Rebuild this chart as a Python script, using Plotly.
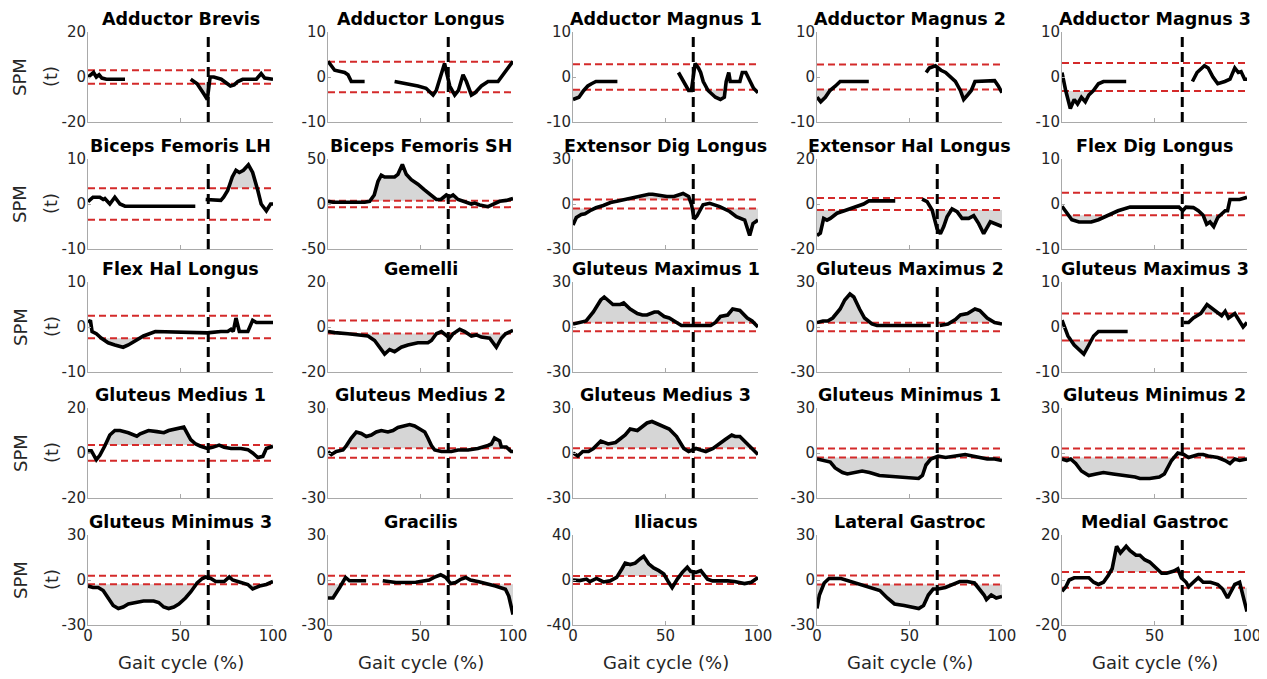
import plotly.graph_objects as go

# ---------------- data ----------------
TITLES = [
    "Adductor Brevis", "Adductor Longus", "Adductor Magnus 1", "Adductor Magnus 2", "Adductor Magnus 3",
    "Biceps Femoris LH", "Biceps Femoris SH", "Extensor Dig Longus", "Extensor Hal Longus", "Flex Dig Longus",
    "Flex Hal Longus", "Gemelli", "Gluteus Maximus 1", "Gluteus Maximus 2", "Gluteus Maximus 3",
    "Gluteus Medius 1", "Gluteus Medius 2", "Gluteus Medius 3", "Gluteus Minimus 1", "Gluteus Minimus 2",
    "Gluteus Minimus 3", "Gracilis", "Iliacus", "Lateral Gastroc", "Medial Gastroc",
]
Y_LIMITS = [20, 10, 10, 10, 10,
            10, 50, 30, 20, 10,
            10, 20, 30, 30, 10,
            20, 30, 30, 30, 30,
            30, 30, 40, 30, 20]
THRESHOLDS = [3.0, 3.4, 2.85, 2.8, 3.1,
              3.5, 3.5, 3.0, 2.7, 2.5,
              2.5, 2.9, 2.8, 2.8, 3.0,
              3.5, 3.2, 3.1, 3.0, 3.0,
              2.8, 2.8, 3.5, 3.0, 3.5]
TOE_OFF = 65
X_TICKS = [0, 50, 100]
X_LABEL = "Gait cycle (%)"
Y_LABEL_1 = "SPM"
Y_LABEL_2 = "(t)"

ADD_BREVIS_X = [0, 3, 4.5, 6, 7.5, 10, 20, None, 55.5, 59, 63, 64.5, 66, 68, 72, 75.5, 77, 79, 81, 83.6, 91, 93.6, 95.5, 100]
ADD_BREVIS_Y = [0, 2, 0, 1, -0.5, -1, -1, None, -1, -3, -8, -10, 0, 0, -1, -3, -4, -3.5, -2, -1, -1, 1.5, -0.5, -1]

ADD_LONGUS_X = [0, 3.6, 9, 10.8, 12.6, 19.8, None, 36, 43, 48.6, 53, 56.8, 58.5, 63, 65.8, 68.5, 70.5, 73, 74.8, 77.5, 79.5, 82.9, 86.5, 91.9, 93.7, 97.3, 100]
ADD_LONGUS_Y = [3.5, 1.5, 1, 0.5, -1, -1, None, -1, -1.5, -2, -2.5, -4, -3, 3, -2, -4, -3, 0.5, -1, -4, -3.5, -2, -1, -1, 0, 2, 3.5]

ADD_MAG1_X = [0, 3.2, 5.8, 8, 10, 12.4, 24, None, 57, 60, 62.5, 64, 66, 67.8, 69, 70.4, 73, 77, 79.7, 81.8, 82.8, 84.2, 85, 90.2, 91.5, 93.4, 95.5, 97.6, 100]
ADD_MAG1_Y = [-5, -4.5, -3, -2, -1.5, -1, -1, None, 1, -1, -3, -3, 3, 2, 1, -1, -3, -4.5, -5, -4.5, -1, 1, -1, -1, 1, 1, -1, -2.5, -3.5]

ADD_MAG2_X = [0, 2, 4.5, 7, 10, 12.5, 28, None, 59, 60.7, 64, 67, 69.5, 72, 74.8, 77.5, 79.3, 81.4, 83.4, 85.4, 88, 96, 98, 100]
ADD_MAG2_Y = [-4.5, -5.5, -4.5, -3, -2, -1, -1, None, 1, 2, 2.5, 1.5, 1, 0, -1, -3, -5, -4, -3, -1, -1, -0.8, -2, -3.5]

ADD_MAG3_X = [0, 2, 4.5, 6.6, 8.4, 10.5, 12.6, 14.5, 17, 19.7, 22.4, 34.7, None, 70.5, 73, 77, 79, 81.6, 84.2, 88, 90.8, 93.4, 95.3, 96.8, 98.7, 100]
ADD_MAG3_Y = [1, -3, -7, -5, -6, -4.5, -5.5, -4, -3, -1.5, -1, -1, None, -1, 1, 2.5, 2, 0, -1.5, -1, -0.5, 2, 1, 1.2, -0.5, -0.5]

BF_LH_X = [0, 2.7, 6.4, 8.2, 9.1, 11.8, 14.5, 17.3, 20, 58, None, 63.6, 66.3, 71.8, 73.3, 75.5, 78, 80, 81.8, 84, 86.7, 89, 91.8, 93.6, 96.4, 98.7, 100]
BF_LH_Y = [0.5, 1.5, 1.5, 1, 1.2, 0, 1.5, 0, -0.5, -0.5, None, 1, 1, 0.8, 1.5, 3, 6, 7.5, 7, 7.5, 8.7, 7, 3, 0, -1.5, 0, 0]

BF_SH_X = [0, 2.7, 19.8, 22.5, 25, 27, 28.8, 30.6, 36, 37.8, 40.2, 42.3, 45, 48.6, 52, 55.9, 58.6, 61, 64, 65.8, 67.6, 70.3, 73.9, 77.5, 79.3, 82, 86.5, 88.3, 90, 92.8, 96.4, 100]
BF_SH_Y = [3, 2, 2, 3, 10, 25, 32, 30, 30, 33, 44, 33, 27, 22, 16, 9, 5, 5, 10, 8, 10, 5, 2, 0, 1, -1, -3, -1, 0, 3, 4, 6]

EXT_DIG_X = [0, 1.8, 4.5, 6.5, 9.8, 12.4, 16.4, 20.3, 24.3, 29.5, 34.8, 41, 43, 47, 50.7, 54.6, 59.5, 62.5, 64, 65.5, 67, 70.3, 73.9, 79.3, 84.7, 88.3, 92.8, 95.5, 97.3, 100]
EXT_DIG_Y = [-14, -9, -7, -6.5, -4, -2.5, -1, 1, 2, 3.5, 5, 6.5, 6.5, 5.5, 5, 5, 7, 5, 0, -10, -8, -0.5, 0.5, -1.7, -5, -8.5, -10.7, -21, -13, -10.7]

EXT_HAL_X = [0, 1.8, 3.6, 5.4, 7.2, 10.8, 14.4, 19.8, 25.2, 28, 42.3, None, 56.8, 59.5, 62.2, 64.9, 66.7, 68.5, 70.3, 73, 75.7, 78.4, 82, 84.7, 87.4, 90.1, 93.7, 96.4, 100]
EXT_HAL_Y = [-14, -13, -6.4, -7.2, -6.4, -4.1, -3.1, -1.6, 0, 1.4, 1.4, None, 2.2, 1.1, -2.6, -11, -13.2, -10, -5.7, -2.2, -3.4, -6.4, -6.4, -5.2, -8.7, -13.2, -7.9, -8.7, -10]

FLEX_DIG_X = [0, 2.6, 5.3, 9.2, 15.8, 19.7, 25, 30.3, 36.8, 63.2, 65.3, 67, 71, 73.7, 76.3, 78.2, 80, 82, 84.2, 88.2, 89.5, 90.8, 96, 100]
FLEX_DIG_Y = [-0.5, -2, -3.5, -4, -4, -3.5, -2.5, -1.5, -0.7, -0.7, -1.5, -0.7, -0.8, -1.5, -2.5, -4.5, -4, -5, -3, -1.5, -1.5, 1, 1, 1.5]

FLEX_HAL_X = [0, 1.3, 2.2, 4.5, 7.3, 10.9, 14.5, 19, 21.8, 25.5, 30, 36.4, 53.6, 64.5, 71.8, 75.5, 77.3, 78.5, 80, 81.8, 86.4, 89, 91, 100]
FLEX_HAL_Y = [1, 1.5, -1, -1.5, -2.5, -3.5, -4, -4.5, -4, -3, -2, -1, -1.2, -1.3, -1, -1, -0.5, -1, 2, -1, -1, 1.5, 1, 1]

GEMELLI_X = [0, 3.6, 10.8, 18, 21.6, 25.2, 28.8, 30.6, 33.3, 36, 39.6, 43.2, 48.6, 54, 55.9, 58.6, 61.3, 64, 65.8, 67.6, 71.2, 73.9, 77.5, 80.2, 82.9, 87.4, 91, 93.7, 96, 100]
GEMELLI_Y = [-2, -2.5, -3, -3.5, -4, -6, -10, -12, -10, -11, -9, -8, -7, -7, -6, -3, -2, -4, -5, -3, -1, -2, -4, -3.5, -4.5, -5, -9, -5, -3, -1.5]

GMAX1_X = [0, 3.2, 7.1, 11, 15, 16.9, 19.5, 21.6, 25.6, 27.4, 30.9, 34.8, 37.5, 40, 44, 46, 49.3, 52, 56, 58.6, 74.4, 77, 79.7, 83.6, 86.3, 90.2, 94.2, 96.8, 100]
GMAX1_Y = [2, 3, 4, 10, 18, 20, 17, 15, 15, 16, 12, 9, 8, 8, 10, 10, 7, 6, 3, 1, 1, 3, 7, 8, 12, 11, 6, 4, 0]

GMAX2_X = [0, 3.2, 5.8, 8.5, 12.5, 15, 17.8, 19.9, 23, 25.7, 29.7, 32.4, 61.5, None, 66.3, 70.8, 74.8, 77.5, 81.4, 85.4, 88, 92, 96, 100]
GMAX2_Y = [3, 4, 4, 6, 12, 18, 22, 20, 12, 6, 2, 1, 1, None, 1, 2, 5, 8, 9, 12, 11, 6, 3, 2]

GMAX3_X = [0, 1.3, 3.2, 6.6, 9.2, 11.8, 14.5, 17.1, 19.7, 35.5, None, 65.8, 68.4, 71, 75, 78.4, 81.6, 84.2, 86.3, 88.2, 90, 93.4, 95, 97.9, 100]
GMAX3_Y = [1.5, 0, -2, -4, -5, -6, -4, -2, -1, -1, None, 1, 1, 2, 3, 5, 4, 3, 2.5, 3.5, 2, 3, 2, 0, 1]

GMED1_X = [0, 1.8, 4.5, 6.4, 9, 11.8, 14.5, 17.3, 21.8, 24.5, 26.4, 28.2, 32.7, 37.3, 41, 43.6, 47.3, 50.9, 51.8, 55.5, 58.2, 60.9, 64.5, 67.3, 70.9, 73.6, 77.3, 82.7, 86.4, 89, 91.8, 94.5, 96.4, 100]
GMED1_Y = [1, 1, -3, -1, 3, 8, 10, 10, 9, 8, 7.5, 8.5, 10, 9.5, 9, 10, 10.5, 11, 11.5, 6, 4, 3, 2, 2.5, 3.5, 2.5, 2, 2, 1.5, 0, -2, -1.5, 2, 3]

GMED2_X = [0, 1.8, 4.5, 8.1, 10, 12.6, 15.3, 18, 20.7, 23.4, 26.1, 28.8, 32.4, 35.1, 37.8, 40.5, 44.1, 46.8, 49.5, 52.3, 54, 55.9, 57.7, 61.3, 66.7, 70.3, 75.7, 81, 86.5, 88.3, 90, 92.8, 93.7, 96.4, 99, 100]
GMED2_Y = [1, -1, 1, 2, 5, 10, 14, 13, 11, 12, 14, 15, 14, 15, 17, 18, 19, 18, 16, 14, 10, 5, 2, 1, 1, 2, 2, 3, 5, 6, 10, 8, 4, 4, 1, 1]

GMED3_X = [0, 2.6, 5.3, 8.4, 11, 15, 19, 23, 28.2, 30.9, 34.8, 40, 42.7, 46.7, 52, 56, 59.9, 62.5, 66.5, 69, 71.8, 75.7, 79.7, 82.3, 85.8, 87.6, 90.2, 94.2, 96.8, 100]
GMED3_Y = [0, -2, 1, 1, 3, 8, 6, 7, 12, 16, 15, 20, 21, 19, 16, 11, 3, 1, 3, 2, 1, 3, 7, 9, 12, 11, 11, 6, 3, -1]

GMIN1_X = [0, 4.5, 7.2, 9.8, 13.8, 16.4, 20.4, 24.4, 28.4, 33.7, 39, 44.3, 49.6, 54.9, 57, 58.9, 61.5, 65.5, 69.5, 74.8, 80.1, 84, 89.4, 92, 96, 100]
GMIN1_Y = [-4, -5, -6, -10, -13, -14, -13, -12, -13, -15, -15.5, -16, -17, -17, -15, -8, -4, -2, -3, -2, -1, -2, -3, -4, -4, -5]

GMIN2_X = [0, 2.6, 4.7, 7.4, 10.5, 14.5, 18.4, 22.4, 27.6, 34.2, 39.5, 42.1, 47.4, 52.6, 55.3, 59.2, 62.6, 65.8, 68.4, 73.7, 76.3, 79, 84.2, 88.2, 90.8, 93.4, 96, 100]
GMIN2_Y = [-4, -5, -4, -7, -12, -15, -14, -13, -14, -15, -16, -17, -17, -16, -14, -5, 0, -1, -3, -1, -1, -2, -3, -5, -7, -4, -5, -4]

GMIN3_X = [0, 2.7, 5.5, 8.2, 10.9, 13.6, 16.4, 19, 21.8, 25.5, 30, 35.5, 38.2, 40.9, 43.6, 46.4, 49.1, 52.7, 55.5, 59, 61.8, 63.6, 66.4, 69, 73.6, 76.4, 78.2, 80.9, 83.6, 86.4, 89, 92.7, 96.4, 100]
GMIN3_Y = [-4, -5, -5, -7, -12, -17, -19, -18, -16, -15, -14, -14, -15, -18, -19, -18, -16, -12, -8, -2, 1, 2, 1, -1, -1, 2, 0, -1, -2, -3, -6, -4, -3, -1]

GRACILIS_X = [0, 2.7, 6.3, 9.5, 11.6, 20.6, None, 29.6, 36.7, 47.5, 54.7, 57.3, 60.9, 63.6, 66.3, 69, 71.7, 74.4, 77, 81.5, 86, 90.5, 95.9, 97.7, 100]
GRACILIS_Y = [-12, -12, -5, 1.7, -0.5, -0.5, None, -0.5, -1.7, -1.5, 0, 1.7, 3.5, 1.7, -2.4, -1.7, 0.5, 1.7, 0, -1.2, -2.4, -4, -6.2, -10.7, -23]

ILIACUS_X = [0, 3.6, 7.3, 9.1, 12.7, 16.4, 20, 23.6, 26.4, 28.2, 30.9, 33.6, 36.4, 38.2, 40.9, 43.6, 46.4, 49.1, 51.8, 53.6, 56.4, 59.1, 61.8, 63.6, 66.4, 69.1, 72.7, 75.5, 83.6, 87.3, 92.7, 96.4, 100]
ILIACUS_Y = [0, -0.5, 0.8, -1.4, 1.4, -1.7, -0.8, 2.3, 9.8, 15, 13.7, 15, 18.9, 21, 14.4, 10.7, 8.3, 5.3, -2.3, -6.8, 0.8, 6.8, 11.3, 7.7, 6.8, 8.3, 0.8, -0.8, -0.8, -1.4, -3.2, -2, 2.3]

LAT_GAS_X = [0, 1.3, 3.9, 6.5, 13, 15.7, 20.9, 26.2, 30.1, 34, 38, 41.9, 47.1, 51, 55, 57.6, 60.2, 62.8, 65.4, 69.4, 73.3, 77.2, 81.2, 85.1, 87.7, 90.3, 91.6, 94.2, 96.9, 100]
LAT_GAS_Y = [-19, -10, -2, 1, 1, 0, -2, -4, -5, -7, -12, -16, -17, -18, -19, -17, -10, -6, -6, -5, -3, -1, -1, -2, -6, -10, -13, -10, -12, -11]

MED_GAS_X = [0, 2.1, 3.9, 6.6, 14.5, 17.1, 19.7, 22.4, 25, 27.1, 29.5, 31.6, 34.7, 36.8, 40, 42.1, 44.7, 47.4, 51.3, 53.9, 56.6, 60.5, 62.6, 64.5, 67.1, 68.4, 71, 73.7, 76.3, 80.3, 84.2, 86.8, 89.5, 93.4, 96, 97.9, 100]
MED_GAS_Y = [-5, -3, 0, 1, 1, -1, -2, -1, 2, 5, 15, 12, 15, 13, 11, 11, 9, 8, 5, 3, 3, 4, 5, 1, -1, -3, -1, 1, -1, -1, -2, -4, -8, -2, -1, -8, -14]

CURVES_X = [ADD_BREVIS_X, ADD_LONGUS_X, ADD_MAG1_X, ADD_MAG2_X, ADD_MAG3_X,
            BF_LH_X, BF_SH_X, EXT_DIG_X, EXT_HAL_X, FLEX_DIG_X,
            FLEX_HAL_X, GEMELLI_X, GMAX1_X, GMAX2_X, GMAX3_X,
            GMED1_X, GMED2_X, GMED3_X, GMIN1_X, GMIN2_X,
            GMIN3_X, GRACILIS_X, ILIACUS_X, LAT_GAS_X, MED_GAS_X]
CURVES_Y = [ADD_BREVIS_Y, ADD_LONGUS_Y, ADD_MAG1_Y, ADD_MAG2_Y, ADD_MAG3_Y,
            BF_LH_Y, BF_SH_Y, EXT_DIG_Y, EXT_HAL_Y, FLEX_DIG_Y,
            FLEX_HAL_Y, GEMELLI_Y, GMAX1_Y, GMAX2_Y, GMAX3_Y,
            GMED1_Y, GMED2_Y, GMED3_Y, GMIN1_Y, GMIN2_Y,
            GMIN3_Y, GRACILIS_Y, ILIACUS_Y, LAT_GAS_Y, MED_GAS_Y]

# ---------------- layout geometry (screen pixels) ----------------
W, H = 1267, 679
PAGE_OFFSET = 8          # default body margin of the page
COL_LEFT = [88, 328, 573, 817, 1062]
PLOT_W = 185
ROW_TOP = [32, 159, 282, 408, 535]
PLOT_H = 90

FONT = "DejaVu Sans"
TXT = "#262626"
AXC = "#a9a9a9"
RED = "#d42a2a"
FILL = "#d6d6d6"


def px(x):
    return (x - PAGE_OFFSET) / W


def py(y):
    return 1 - (y - PAGE_OFFSET) / H


def exceed_polys(xs, ys, thr, sign):
    """Regions where sign*y exceeds thr, closed along the threshold."""
    segs, cur = [], []
    for x, y in zip(xs, ys):
        if y is None:
            if cur:
                segs.append(cur)
                cur = []
        else:
            cur.append((x, y))
    if cur:
        segs.append(cur)
    polys = []
    for seg in segs:
        poly = None
        for i, (x, y) in enumerate(seg):
            d = sign * y - thr
            if d > 0:
                if poly is None:
                    if i > 0:
                        x0, y0 = seg[i - 1]
                        d0 = sign * y0 - thr
                        xc = x0 + (x - x0) * (-d0) / (d - d0)
                    else:
                        xc = x
                    poly = [(xc, sign * thr)]
                poly.append((x, y))
            else:
                if poly is not None:
                    x0, y0 = seg[i - 1]
                    d0 = sign * y0 - thr
                    xc = x0 + (x - x0) * d0 / (d0 - d)
                    poly.append((xc, sign * thr))
                    polys.append(poly)
                    poly = None
        if poly is not None:
            poly.append((seg[-1][0], sign * thr))
            polys.append(poly)
    return polys


fig = go.Figure()
annotations = []
shapes = []
layout_axes = {}

for k in range(25):
    r, c = divmod(k, 5)
    n = k + 1
    xa = "x" if n == 1 else f"x{n}"
    ya = "y" if n == 1 else f"y{n}"
    xs, ys = CURVES_X[k], CURVES_Y[k]
    thr = THRESHOLDS[k]
    lim = Y_LIMITS[k]

    # supra-threshold clusters
    for sign in (1, -1):
        for poly in exceed_polys(xs, ys, thr, sign):
            fig.add_trace(go.Scatter(
                x=[p[0] for p in poly], y=[p[1] for p in poly],
                xaxis=xa, yaxis=ya, mode="lines", fill="toself",
                fillcolor=FILL, line=dict(width=0, color=FILL),
                hoverinfo="skip", showlegend=False))
    # thresholds
    for sign in (1, -1):
        fig.add_trace(go.Scatter(
            x=[0, 100], y=[sign * thr, sign * thr], xaxis=xa, yaxis=ya,
            mode="lines", line=dict(color=RED, width=2, dash="7px,4px"),
            hoverinfo="skip", showlegend=False))
    # SPM curve
    fig.add_trace(go.Scatter(
        x=xs, y=ys, xaxis=xa, yaxis=ya, mode="lines",
        line=dict(color="black", width=3.6), connectgaps=False,
        showlegend=False))

    # toe-off line
    shapes.append(dict(type="line", xref=xa, yref=f"{ya} domain",
                       x0=TOE_OFF, x1=TOE_OFF, y0=0, y1=0.97, layer="above",
                       line=dict(color="black", width=3, dash="10px,5px")))

    x0 = px(COL_LEFT[c])
    x1 = px(COL_LEFT[c] + PLOT_W)
    y1 = py(ROW_TOP[r])
    y0 = py(ROW_TOP[r] + PLOT_H)
    key = "" if n == 1 else str(n)
    layout_axes["xaxis" + key] = dict(
        domain=[x0, x1], anchor=ya, range=[0, 100], showgrid=False, zeroline=False,
        automargin=False, ticklabelstandoff=-3,
        showline=True, linecolor=AXC, linewidth=1, ticks="inside", ticklen=4,
        tickcolor=AXC, tickvals=X_TICKS, ticktext=[str(v) for v in X_TICKS],
        showticklabels=(r == 4), tickfont=dict(family=FONT, size=15, color=TXT),
        fixedrange=True)
    layout_axes["yaxis" + key] = dict(
        domain=[y0, y1], anchor=xa, range=[-lim, lim], showgrid=False, zeroline=False,
        automargin=False, ticklabelstandoff=-2,
        showline=True, linecolor=AXC, linewidth=1, ticks="inside", ticklen=3,
        tickcolor=AXC, tickvals=[-lim, 0, lim], ticktext=[f"-{lim}", "0", str(lim)],
        tickfont=dict(family=FONT, size=15, color=TXT), fixedrange=True)

    annotations.append(dict(
        text=f"<b>{TITLES[k]}</b>", xref="paper", yref="paper",
        x=(x0 + x1) / 2, y=y1, xanchor="center", yanchor="bottom", yshift=1,
        showarrow=False, font=dict(family=FONT, size=17.5, color="black")))

    if c == 0:
        yc = py(ROW_TOP[r] + PLOT_H / 2)
        annotations.append(dict(text=Y_LABEL_1, xref="paper", yref="paper", x=px(20), y=yc,
                                xanchor="center", yanchor="middle", textangle=-90, showarrow=False,
                                font=dict(family=FONT, size=18, color=TXT)))
        annotations.append(dict(text=Y_LABEL_2, xref="paper", yref="paper", x=px(51), y=yc,
                                xanchor="center", yanchor="middle", textangle=-90, showarrow=False,
                                font=dict(family=FONT, size=18, color=TXT)))
    if r == 4:
        annotations.append(dict(text=X_LABEL, xref="paper", yref="paper",
                                x=(x0 + x1) / 2, y=py(662), xanchor="center", yanchor="middle",
                                showarrow=False, font=dict(family=FONT, size=18, color=TXT)))

fig.update_layout(
    width=W, height=H, autosize=False,
    margin=dict(l=0, r=0, t=0, b=0, pad=0),
    paper_bgcolor="white", plot_bgcolor="white",
    showlegend=False, annotations=annotations, shapes=shapes,
    font=dict(family=FONT, color=TXT),
    **layout_axes)

fig.write_html("out.html")
